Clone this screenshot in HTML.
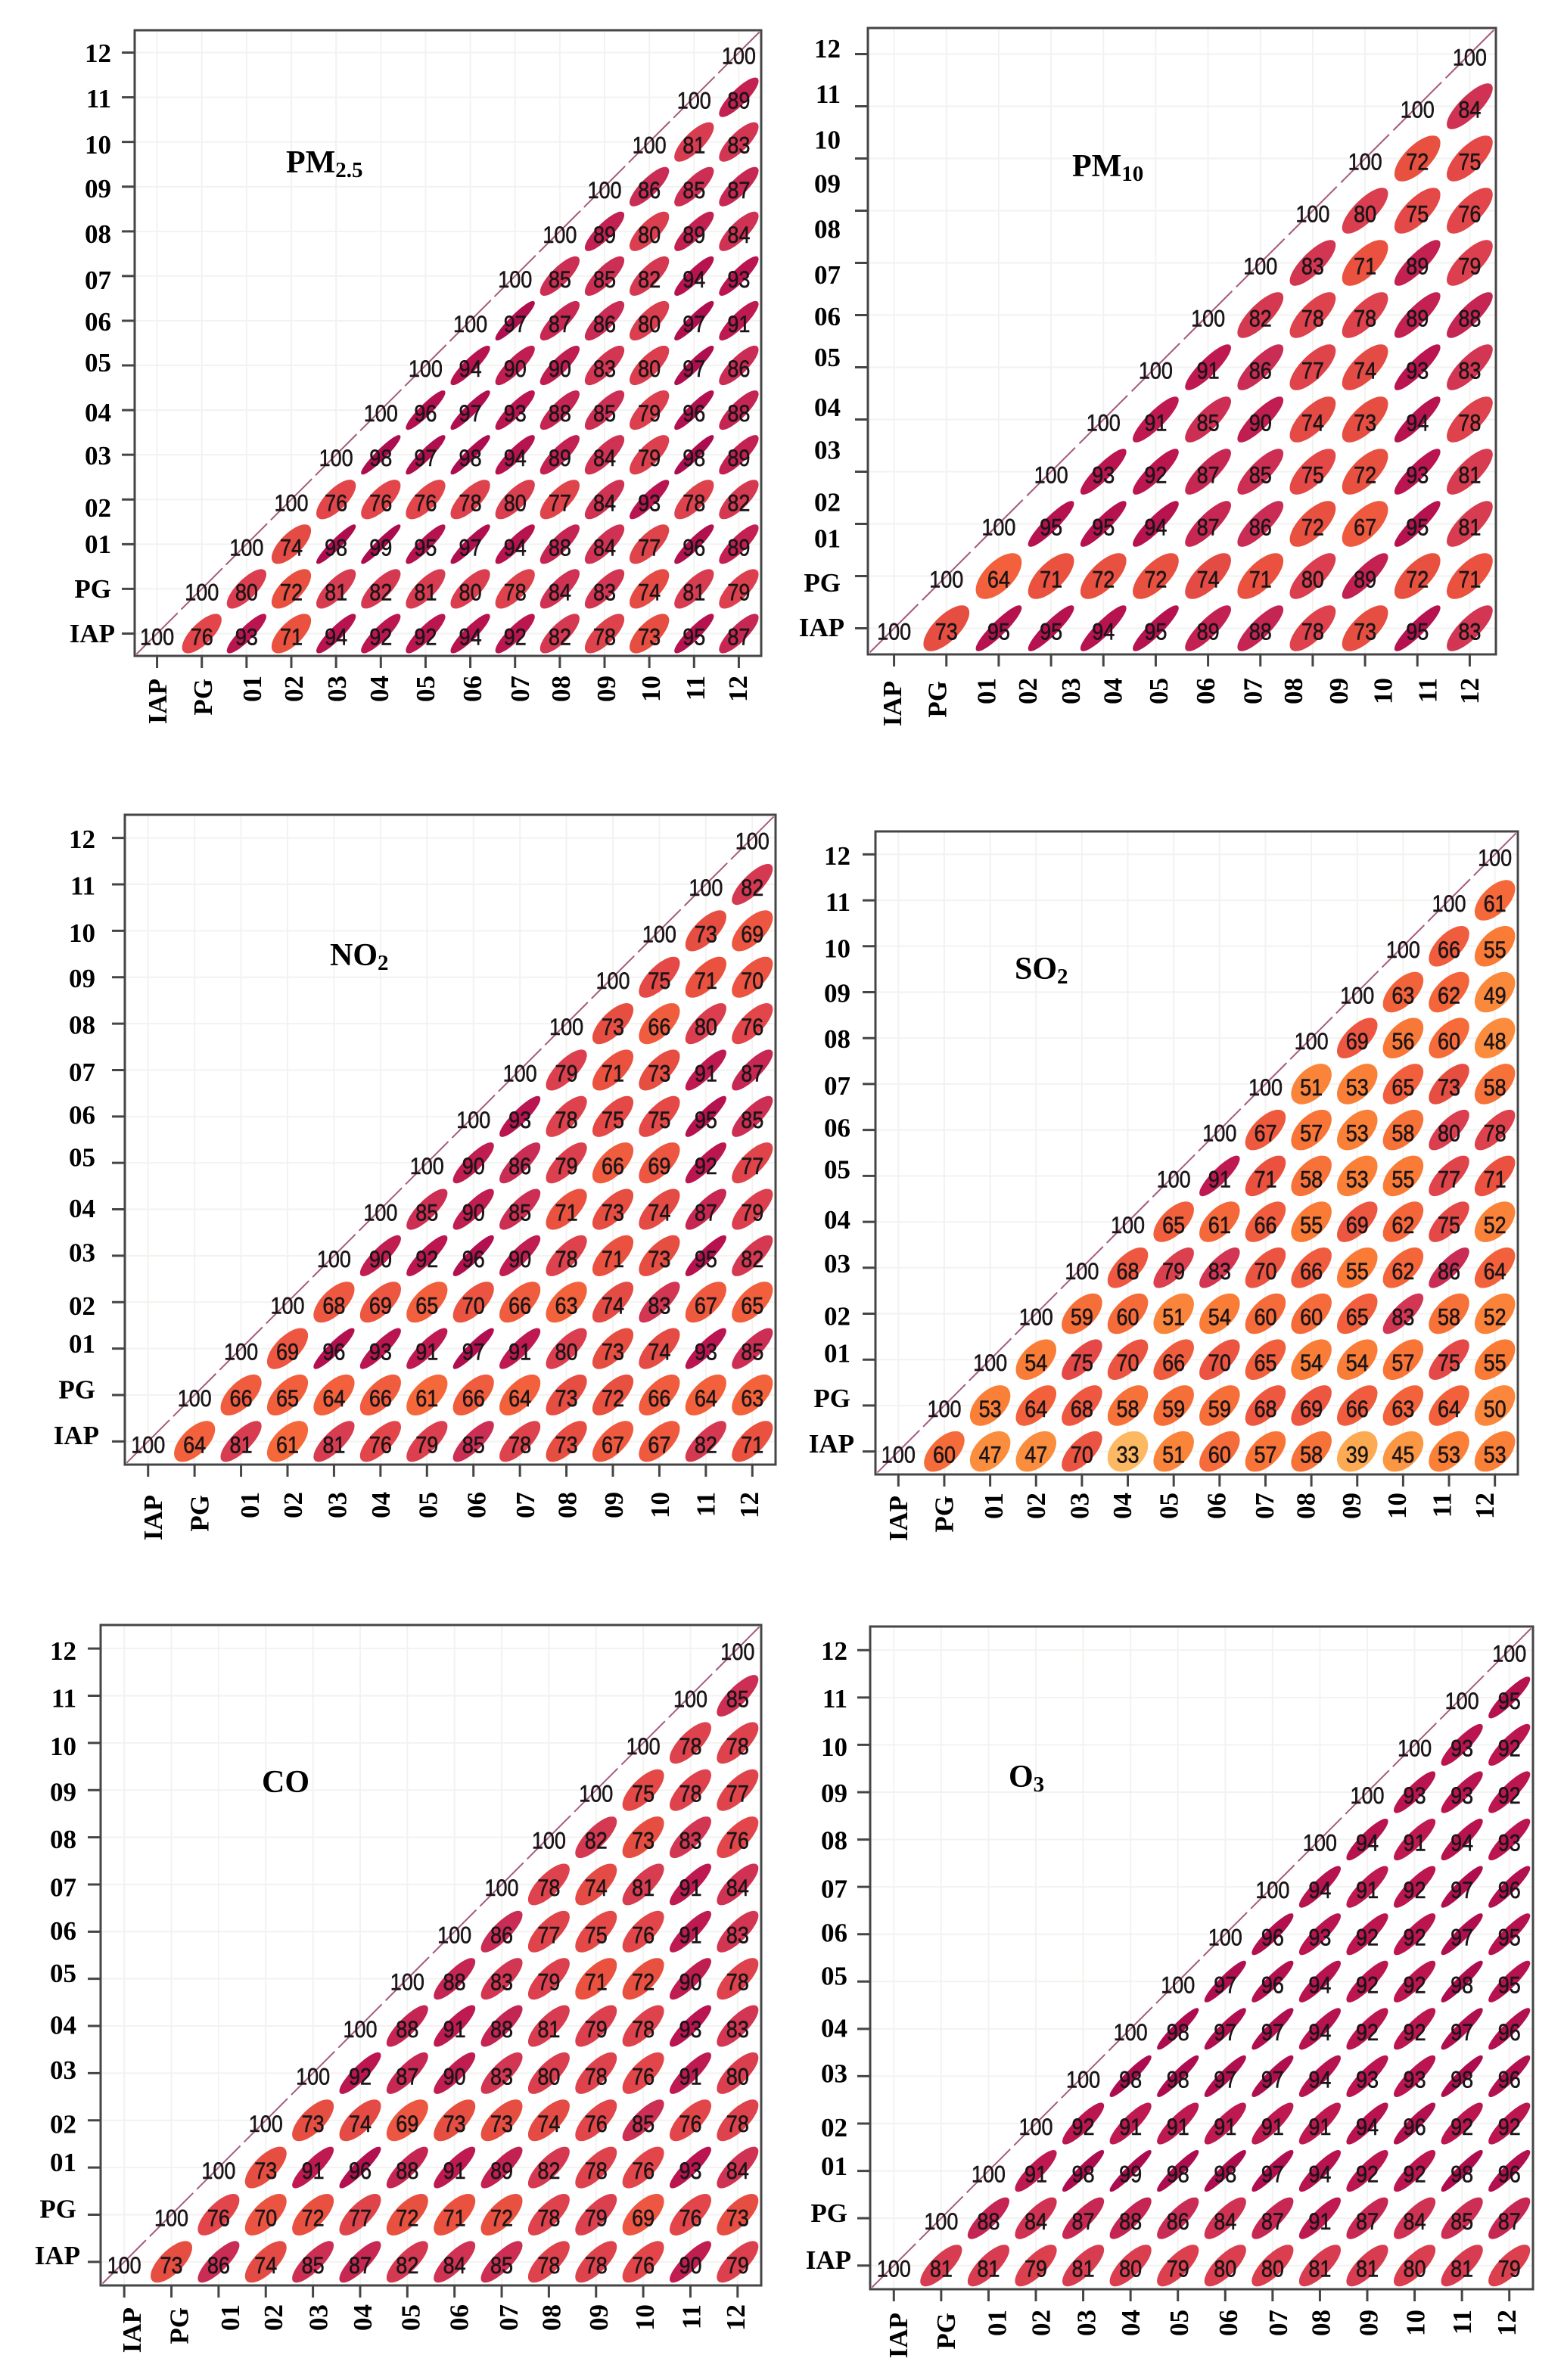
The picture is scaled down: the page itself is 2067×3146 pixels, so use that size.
<!DOCTYPE html>
<html lang="en">
<head>
<meta charset="utf-8">
<title>Correlation ellipse matrices for six pollutants</title>
<style>
html,body{margin:0;padding:0;background:#fff;}
#figure{display:block;width:2067px;height:3146px;background:#fff;}
.panel-title{font-family:"Liberation Serif",serif;font-weight:bold;font-size:42px;fill:#000;}
.panel-title .sub{font-size:29px;}
.axis-label{font-family:"Liberation Serif",serif;font-weight:bold;font-size:35px;fill:#000;}
.cell-value{font-family:"Liberation Sans",sans-serif;font-size:27px;fill:#1b1518;text-anchor:middle;stroke:#1b1518;stroke-width:.5;}
</style>
</head>
<body>
<svg id="figure" xmlns="http://www.w3.org/2000/svg" width="2067" height="3146" viewBox="0 0 2067 3146">
  <rect width="2067" height="3146" fill="#fff"/>
  <g id="panel-pm25"></g>
  <g id="panel-pm10"></g>
  <g id="panel-no2"></g>
  <g id="panel-so2"></g>
  <g id="panel-co"></g>
  <g id="panel-o3"></g>
  <text class="panel-title" x="378" y="228">PM<tspan class="sub" dy="6">2.5</tspan></text>
  <text class="panel-title" x="1417" y="233">PM<tspan class="sub" dy="6">10</tspan></text>
  <text class="panel-title" x="436" y="1276">NO<tspan class="sub" dy="6">2</tspan></text>
  <text class="panel-title" x="1341" y="1294">SO<tspan class="sub" dy="6">2</tspan></text>
  <text class="panel-title" x="346" y="2369">CO</text>
  <text class="panel-title" x="1333" y="2362">O<tspan class="sub" dy="6">3</tspan></text>
</svg>
<script>
// Tick labels shared by every panel
const tickLabels = ["IAP","PG","01","02","03","04","05","06","07","08","09","10","11","12"];

// Correlation values (%), each row runs from the diagonal rightward, bottom row first
const pm25Values = [
  [100,76,93,71,94,92,92,94,92,82,78,73,95,87],
  [100,80,72,81,82,81,80,78,84,83,74,81,79],
  [100,74,98,99,95,97,94,88,84,77,96,89],
  [100,76,76,76,78,80,77,84,93,78,82],
  [100,98,97,98,94,89,84,79,98,89],
  [100,96,97,93,88,85,79,96,88],
  [100,94,90,90,83,80,97,86],
  [100,97,87,86,80,97,91],
  [100,85,85,82,94,93],
  [100,89,80,89,84],
  [100,86,85,87],
  [100,81,83],
  [100,89],
  [100]
];
const pm10Values = [
  [100,73,95,95,94,95,89,88,78,73,95,83],
  [100,64,71,72,72,74,71,80,89,72,71],
  [100,95,95,94,87,86,72,67,95,81],
  [100,93,92,87,85,75,72,93,81],
  [100,91,85,90,74,73,94,78],
  [100,91,86,77,74,93,83],
  [100,82,78,78,89,88],
  [100,83,71,89,79],
  [100,80,75,76],
  [100,72,75],
  [100,84],
  [100]
];
const no2Values = [
  [100,64,81,61,81,76,79,85,78,73,67,67,82,71],
  [100,66,65,64,66,61,66,64,73,72,66,64,63],
  [100,69,96,93,91,97,91,80,73,74,93,85],
  [100,68,69,65,70,66,63,74,83,67,65],
  [100,90,92,96,90,78,71,73,95,82],
  [100,85,90,85,71,73,74,87,79],
  [100,90,86,79,66,69,92,77],
  [100,93,78,75,75,95,85],
  [100,79,71,73,91,87],
  [100,73,66,80,76],
  [100,75,71,70],
  [100,73,69],
  [100,82],
  [100]
];
const so2Values = [
  [100,60,47,47,70,33,51,60,57,58,39,45,53,53],
  [100,53,64,68,58,59,59,68,69,66,63,64,50],
  [100,54,75,70,66,70,65,54,54,57,75,55],
  [100,59,60,51,54,60,60,65,83,58,52],
  [100,68,79,83,70,66,55,62,86,64],
  [100,65,61,66,55,69,62,75,52],
  [100,91,71,58,53,55,77,71],
  [100,67,57,53,58,80,78],
  [100,51,53,65,73,58],
  [100,69,56,60,48],
  [100,63,62,49],
  [100,66,55],
  [100,61],
  [100]
];
const coValues = [
  [100,73,86,74,85,87,82,84,85,78,78,76,90,79],
  [100,76,70,72,77,72,71,72,78,79,69,76,73],
  [100,73,91,96,88,91,89,82,78,76,93,84],
  [100,73,74,69,73,73,74,76,85,76,78],
  [100,92,87,90,83,80,78,76,91,80],
  [100,88,91,88,81,79,78,93,83],
  [100,88,83,79,71,72,90,78],
  [100,86,77,75,76,91,83],
  [100,78,74,81,91,84],
  [100,82,73,83,76],
  [100,75,78,77],
  [100,78,78],
  [100,85],
  [100]
];
const o3Values = [
  [100,81,81,79,81,80,79,80,80,81,81,80,81,79],
  [100,88,84,87,88,86,84,87,91,87,84,85,87],
  [100,91,98,99,98,98,97,94,92,92,98,96],
  [100,92,91,91,91,91,91,94,96,92,92],
  [100,98,98,97,97,94,93,93,98,96],
  [100,98,97,97,94,92,92,97,96],
  [100,97,96,94,92,92,98,95],
  [100,96,93,92,92,97,95],
  [100,94,91,92,97,96],
  [100,94,91,94,93],
  [100,93,93,92],
  [100,93,92],
  [100,95],
  [100]
];

const SVG_NS = "http://www.w3.org/2000/svg";

function make(parent, tag, attrs) {
  const el = document.createElementNS(SVG_NS, tag);
  for (const k in attrs) el.setAttribute(k, attrs[k]);
  parent.appendChild(el);
  return el;
}

function hexToRgb(h) {
  return [parseInt(h.slice(1,3),16), parseInt(h.slice(3,5),16), parseInt(h.slice(5,7),16)];
}

function valueColor(v) {
  const stops = [
    [30,"#fdbf6a"],[40,"#fca950"],[47,"#fb8e3e"],[55,"#f97b36"],[62,"#f4653a"],[68,"#ee5840"],
    [72,"#e8503f"],[76,"#e2464a"],[81,"#d83c50"],[86,"#c92c54"],[92,"#bc1650"],[99,"#ab0c4e"]
  ];
  if (v <= stops[0][0]) return stops[0][1];
  for (let i = 1; i < stops.length; i++) {
    if (v <= stops[i][0]) {
      const t = (v - stops[i-1][0]) / (stops[i][0] - stops[i-1][0]);
      const a = hexToRgb(stops[i-1][1]);
      const b = hexToRgb(stops[i][1]);
      return "rgb(" + a.map((c, j) => Math.round(c + (b[j] - c) * t)).join(",") + ")";
    }
  }
  return stops[stops.length-1][1];
}

function ellipsePath(cx, cy, sx, sy, r) {
  const d = Math.acos(r * 0.965);
  const pts = [];
  for (let k = 0; k < 48; k++) {
    const t = k / 48 * 2 * Math.PI;
    const px = cx + sx * Math.cos(t + d / 2);
    const py = cy - sy * Math.cos(t - d / 2);
    pts.push(px.toFixed(1) + "," + py.toFixed(1));
  }
  return "M" + pts.join("L") + "Z";
}

// Small hand-placement offsets of the axis labels, common to all panels
const yLabelNudge = [0,0,0,11,1,3,-4,1,5,3,2,3,1,0];
const xLabelNudge = [0,1,7,3,1,-2,0,3,7,2,3,3,3,0];

function drawPanel(id, name, values, box, labels) {
  const g = document.getElementById(id);
  const n = values.length;
  const cellW = (box.right - box.left) / n;
  const cellH = (box.bottom - box.top) / n;
  const xScale = i => box.left + (i + 0.5) * cellW;
  const yScale = i => box.bottom - (i + 0.5) * cellH;

  // grid
  for (let i = 0; i < n; i++) {
    const gv = make(g, "line", {x1:xScale(i), x2:xScale(i), y1:box.top, y2:box.bottom, stroke:"#f2f2f0", "stroke-width":2});
    
    
    const gh = make(g, "line", {x1:box.left, x2:box.right, y1:yScale(i), y2:yScale(i), stroke:"#f2f2f0", "stroke-width":2});
    
    
  }

  // ellipses
  values.forEach((row, r) => {
    row.forEach((v, k) => {
      const c = r + k;
      const cx = xScale(c);
      const cy = yScale(r);
      const sx = cellW * 0.425;
      const sy = cellH * 0.425;
      if (v >= 100) {
        const diag = make(g, "line", {x1:cx - cellW * 0.46, y1:cy + cellH * 0.46, x2:cx + cellW * 0.46, y2:cy - cellH * 0.46, stroke:"#a6597f", "stroke-width":2});
        
        
      } else {
        const e = make(g, "path", {d:ellipsePath(cx, cy, sx, sy, v / 100), fill:valueColor(v), stroke:valueColor(v), "stroke-width":2, "stroke-linejoin":"round"});
        
        
      }
    });
  });

  // values
  values.forEach((row, r) => {
    row.forEach((v, k) => {
      const c = r + k;
      const t = make(g, "text", {class:"cell-value", transform:"translate(" + xScale(c) + "," + (yScale(r) + 15) + ") scale(1,1.18)"});
      t.textContent = v;
      
      
    });
  });

  // frame
  const frame = make(g, "rect", {x:box.left, y:box.top, width:box.right - box.left, height:box.bottom - box.top, fill:"none", stroke:"#454545", "stroke-width":3});
  
  

  // ticks
  for (let i = 0; i < n; i++) {
    const tx = make(g, "line", {x1:xScale(i), x2:xScale(i), y1:box.bottom, y2:box.bottom + 16, stroke:"#454545", "stroke-width":3});
    
    
    const ty = make(g, "line", {x1:box.left - 17, x2:box.left, y1:yScale(i), y2:yScale(i), stroke:"#454545", "stroke-width":3});
    
    
  }

  // axis labels
  const m = tickLabels.length - 1;
  tickLabels.forEach((lab, i) => {
    const ly = labels.yFirst + (labels.yLast - labels.yFirst) * i / m + yLabelNudge[i];
    const lx = labels.yRight + (i === 0 ? 5 : 0);
    const yl = make(g, "text", {class:"axis-label", x:lx, y:ly + 12, "text-anchor":"end"});
    yl.textContent = lab;
    
    

    const xc = labels.xFirst + (labels.xLast - labels.xFirst) * i / m + xLabelNudge[i];
    const top = labels.xTop + (i < 2 ? 4 : 0);
    const xl = make(g, "text", {class:"axis-label", "text-anchor":"end", transform:"translate(" + (xc + 12) + "," + top + ") rotate(-90)"});
    xl.textContent = lab;
    
    
  });
}

drawPanel("panel-pm25", "pm25", pm25Values,
  {left:178, top:40, right:1006, bottom:867},
  {yFirst:837, yLast:70, yRight:147, xFirst:208, xLast:975, xTop:893});
drawPanel("panel-pm10", "pm10", pm10Values,
  {left:1147, top:37, right:1977, bottom:865},
  {yFirst:829, yLast:64, yRight:1111, xFirst:1179, xLast:1942, xTop:896});
drawPanel("panel-no2", "no2", no2Values,
  {left:165, top:1077, right:1025, bottom:1936},
  {yFirst:1897, yLast:1109, yRight:126, xFirst:202, xLast:990, xTop:1972});
drawPanel("panel-so2", "so2", so2Values,
  {left:1157, top:1099, right:2006, bottom:1949},
  {yFirst:1908, yLast:1131, yRight:1124, xFirst:1187, xLast:1962, xTop:1973});
drawPanel("panel-co", "co", coValues,
  {left:133, top:2148, right:1006, bottom:3021},
  {yFirst:2981, yLast:2182, yRight:101, xFirst:174, xLast:972, xTop:3046});
drawPanel("panel-o3", "o3", o3Values,
  {left:1150, top:2150, right:2026, bottom:3026},
  {yFirst:2987, yLast:2182, yRight:1120, xFirst:1187, xLast:1991, xTop:3053});
</script>
</body>
</html>
